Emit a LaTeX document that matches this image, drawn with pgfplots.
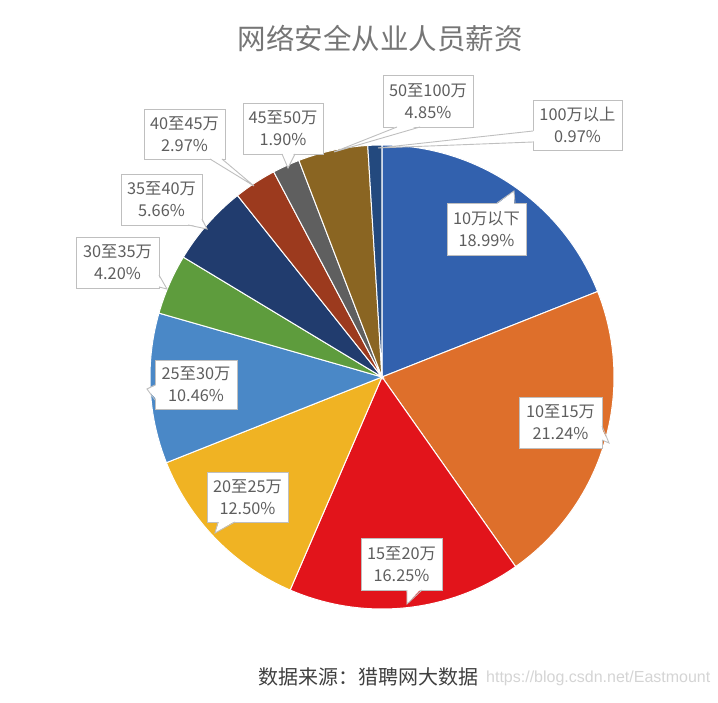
\documentclass[border=0pt]{standalone}
\usepackage{fontspec}
\setmainfont{Noto Sans CJK SC}
\newfontfamily\urlfont{Liberation Sans}
\usepackage{pgfplots}
\usepackage{pgfplotstable}
\pgfplotsset{compat=1.18}
\usetikzlibrary{calc}

\definecolor{c0}{HTML}{3261AE}
\definecolor{c1}{HTML}{DE6F2B}
\definecolor{c2}{HTML}{E2141B}
\definecolor{c3}{HTML}{F0B323}
\definecolor{c4}{HTML}{4A88C7}
\definecolor{c5}{HTML}{5E9C3D}
\definecolor{c6}{HTML}{213C6E}
\definecolor{c7}{HTML}{9C3A1E}
\definecolor{c8}{HTML}{5F5F5F}
\definecolor{c9}{HTML}{8A6522}
\definecolor{c10}{HTML}{23497E}
\definecolor{txtcol}{HTML}{5E5E5E}
\definecolor{titlecol}{HTML}{767676}
\definecolor{boxcol}{HTML}{BFBFBF}
\definecolor{srccol}{HTML}{3F3F3F}
\definecolor{wmcol}{HTML}{D4D4D4}

% share of each salary band, clockwise from 12 o'clock
\pgfplotstableread{
label pct
10万以下 18.99
10至15万 21.24
15至20万 16.25
20至25万 12.50
25至30万 10.46
30至35万 4.20
35至40万 5.66
40至45万 2.97
45至50万 1.90
50至100万 4.85
100万以上 0.97
}\piedata

% box corner 1, box corner 2, tail base 1, tail base 2, tail tip, text
\newcommand\callout[6]{%
  \draw[boxcol,fill=white,line width=0.9pt] (axis cs:#1) rectangle (axis cs:#2);
  \fill[white] ($(axis cs:#3)!1.6pt!($(axis cs:#1)!0.5!(axis cs:#2)$)$) -- (axis cs:#5)
     -- ($(axis cs:#4)!1.6pt!($(axis cs:#1)!0.5!(axis cs:#2)$)$) -- cycle;
  \draw[boxcol,line width=0.9pt,line join=miter] (axis cs:#3) -- (axis cs:#5) -- (axis cs:#4);
  \node[text=txtcol,align=center,inner sep=0pt,font=\fontsize{16.3}{22}\selectfont]
     at ($(axis cs:#1)!0.5!(axis cs:#2)$) {#6};
}

\begin{document}
\begin{tikzpicture}
\begin{axis}[x=1pt,y=1pt,xmin=0,xmax=718,ymin=0,ymax=703,y dir=reverse,
  hide axis,clip=false]
\path (axis cs:0,0) rectangle (axis cs:718,703);

\def\cum{0}
\pgfplotsforeachungrouped \i in {0,...,10}{%
  \pgfplotstablegetelem{\i}{pct}\of\piedata
  \let\p=\pgfplotsretval
  \pgfmathsetmacro\a{90-3.6*\cum}
  \pgfmathsetmacro\cum{\cum+\p}
  \pgfmathsetmacro\b{90-3.6*\cum}
  \edef\cmd{\noexpand\addplot[fill=c\i,draw=white,line width=1pt,samples=60,
    domain=\b:\a] ({382+232*cos(x)},{377-232*sin(x)}) -- (axis cs:382,377) -- cycle;}
  \cmd
}

\callout{447,203}{526,255}{497,203}{515,203}{514,191}{10万以下\\18.99\%}
\callout{519,397}{602,448}{602,426}{602,440}{609,443}{10至15万\\21.24\%}
\callout{361,538}{442,590}{407,590}{422,590}{407,604}{15至20万\\16.25\%}
\callout{207,472}{288,522}{218,522}{235,522}{215,533}{20至25万\\12.50\%}
\callout{155,360}{237,409}{155,385}{155,400}{147,389}{25至30万\\10.46\%}
\callout{76,237}{159,288}{159,275}{159,287}{167,289}{30至35万\\4.20\%}
\callout{121,174}{202,225}{188,225}{202,219}{207,229}{35至40万\\5.66\%}
\callout{144,109}{225,159}{210,159}{222,159}{254,186}{40至45万\\2.97\%}
\callout{243,103}{323,154}{282,154}{295,154}{288,168}{45至50万\\1.90\%}
\callout{383,75}{473,127}{397,127}{420,127}{334,152}{50至100万\\4.85\%}
\callout{533,100}{622,150}{533,131}{533,142}{378,148}{100万以上\\0.97\%}

\node[text=titlecol,inner sep=0pt,font=\fontsize{28.5}{31}\selectfont]
  at (axis cs:380,39) {网络安全从业人员薪资};
\node[anchor=west,text=srccol,inner sep=0pt,font=\fontsize{20}{24}\selectfont]
  at (axis cs:258,677) {数据来源：猎聘网大数据};
\node[anchor=west,text=wmcol,inner sep=0pt,font=\urlfont\fontsize{16}{19}\selectfont]
  at (axis cs:486,678) {https://blog.csdn.net/Eastmount};
\end{axis}
\end{tikzpicture}
\end{document}
